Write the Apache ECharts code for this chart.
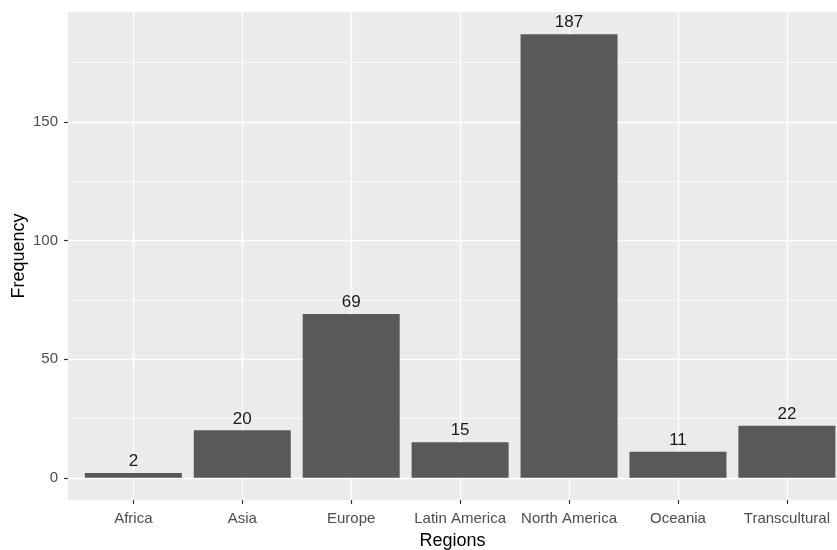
<!DOCTYPE html>
<html>
<head>
<meta charset="utf-8">
<script src="https://cdn.jsdelivr.net/npm/echarts@6/dist/echarts.min.js"></script>
<style>
html,body{margin:0;padding:0;background:#fff;}
#chart{width:837px;height:550px;}
</style>
</head>
<body>
<div id="chart"></div>
<script>
const categories = ['Africa','Asia','Europe','Latin America','North America','Oceania','Transcultural'];
const frequency = [2, 20, 69, 15, 187, 11, 22];
const yTicks = [0, 50, 100, 150];
const yMinorTicks = [25, 75, 125, 175];

const positions = categories.map((c, i) => i);
const barData = frequency.map((v, i) => [i, v]);

const chart = echarts.init(document.getElementById('chart'), null, {renderer: 'canvas'});
const font = 'Liberation Sans, Arial, sans-serif';

const option = {
  animation: false,
  backgroundColor: '#ffffff',
  grid: {
    left: 68, right: 0, top: 12, bottom: 50,
    outerBoundsMode: 'none',
    containLabel: false,
    show: true, backgroundColor: '#EBEBEB', borderWidth: 0
  },
  xAxis: {
    type: 'value',
    min: -0.6, max: 6.46,
    name: 'Regions',
    nameLocation: 'middle',
    nameGap: 32,
    nameMoveOverlap: false,
    nameTextStyle: {color: '#000', fontSize: 18, fontFamily: font},
    axisLine: {show: true, onZero: false, lineStyle: {color: 'rgba(0,0,0,0)'}},
    axisTick: {show: true, inside: false, customValues: positions, length: 4, lineStyle: {color: '#333333', width: 1.2}},
    axisLabel: {
      customValues: positions, margin: 11, color: '#4D4D4D', fontSize: 15, fontFamily: font,
      formatter: v => categories[Math.round(v)]
    },
    splitLine: {show: false}
  },
  yAxis: {
    type: 'value',
    min: -9.35, max: 196.35,
    name: 'Frequency',
    nameLocation: 'middle',
    nameGap: 40,
    nameMoveOverlap: false,
    nameTextStyle: {color: '#000', fontSize: 18, fontFamily: font},
    axisLine: {show: true, onZero: false, lineStyle: {color: 'rgba(0,0,0,0)'}},
    axisTick: {show: true, inside: false, customValues: yTicks, length: 4, lineStyle: {color: '#333333', width: 1.2}},
    axisLabel: {customValues: yTicks, margin: 10, color: '#4D4D4D', fontSize: 15, fontFamily: font},
    splitLine: {show: false}
  },
  series: [
    {
      type: 'line',
      data: [],
      z: 1,
      silent: true,
      markLine: {
        silent: true,
        z: 1,
        symbol: ['none', 'none'],
        label: {show: false},
        animation: false,
        data: [
          ...yMinorTicks.map(v => ({yAxis: v, lineStyle: {color: '#ffffff', width: 0.7, type: 'solid'}})),
          ...yTicks.map(v => ({yAxis: v, lineStyle: {color: '#ffffff', width: 1.4, type: 'solid'}})),
          ...positions.map(v => ({xAxis: v, lineStyle: {color: '#ffffff', width: 1.4, type: 'solid'}}))
        ]
      }
    },
    {
      type: 'bar',
      data: barData,
      barWidth: 97,
      z: 3,
      itemStyle: {color: '#595959'},
      label: {
        show: true, position: 'top', distance: 3,
        color: '#1a1a1a', fontSize: 17, fontFamily: font,
        formatter: p => p.value[1]
      }
    }
  ]
};
chart.setOption(option);
</script>
</body>
</html>
